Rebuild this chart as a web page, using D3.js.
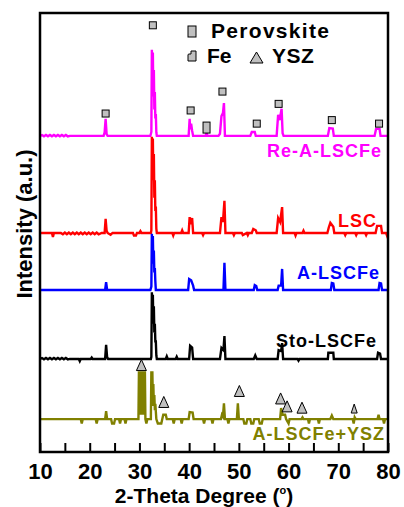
<!DOCTYPE html>
<html>
<head>
<meta charset="utf-8">
<script src="https://cdn.jsdelivr.net/npm/d3@7/dist/d3.min.js"></script>
<style>
  body { margin: 0; background: #fff; }
  text { font-family: "Liberation Sans", Arial, sans-serif; font-weight: bold; }
</style>
</head>
<body>
<script>
// XRD patterns, stacked with offsets

// x ticks
var tickValues = [10, 15, 20, 25, 30, 35, 40, 45, 50, 55, 60, 65, 70, 75, 80];

// series names, colours and baseline offsets (intensity units)
var names = ["Re-A-LSCFe", "LSC", "A-LSCFe", "Sto-LSCFe", "A-LSCFe+YSZ"];
var colors = ["#ff00ff", "#ff0000", "#0000ff", "#000000", "#808000"];
var offsets = [72.0, 49.9, 36.9, 21.2, 7.5];

// [2theta, intensity above baseline]
var reALSCFe = [[10,0],[10.4,0.2],[10.8,-0.1],[11.2,0.2],[11.6,-0.1],[12,0.2],[12.4,-0.1],[12.8,0.2],[13.2,-0.1],[13.6,0.2],[14,-0.1],[14.4,0.2],[14.8,-0.1],[15.2,0.2],[15.6,-0.1],[16,0],
  [22.8,0],[23.0,0.8],[23.2,3.9],[23.4,0.4],[23.6,0],
  [32.2,0],[32.4,0.9],[32.5,19.6],[32.6,12],[32.7,19.0],[32.8,9],[32.9,15],[33.0,6],[33.1,10],[33.2,4],[33.3,5],[33.4,0.8],[33.5,0],
  [39.9,0],[40.1,3.9],[40.2,1.5],[40.4,2.8],[40.6,1.2],[40.8,0],
  [43.3,0],[43.5,0.7],[43.7,0],
  [45.9,0],[46.2,0.5],[46.5,4.5],[46.8,5.2],[47.0,7.5],[47.2,0],
  [52.3,0],[52.6,0.9],[53.2,0.9],[53.4,0],
  [57.6,0],[57.9,4.8],[58.2,3.6],[58.6,6.2],[58.8,0.6],[59.0,0],
  [67.9,0],[68.2,1.8],[68.9,1.7],[69.1,0],
  [77.3,0],[77.6,1.6],[78.3,1.6],[78.5,0],[80,0]];

var lsc = [[10,0],[12.4,0],[12.6,-0.9],[12.8,0],[14.2,0],[14.6,-0.3],[15.0,0.1],[15.4,-0.3],[15.8,0.1],[16.2,-0.3],[16.6,0.1],[17,-0.3],[17.4,0.1],[17.8,-0.3],[18.2,0.1],[18.6,-0.3],[19,0.1],[19.4,-0.3],[19.8,0.1],[20.2,-0.3],[20.6,0.1],[21,-0.3],[21.4,0.1],[21.8,-0.3],[22.4,0],
  [23.0,0],[23.2,3.2],[23.4,0.5],[23.6,0],[24.2,-0.4],[24.6,0],
  [28.7,0],[28.9,-0.6],[29.3,-0.6],[29.5,0],[30.0,0],[30.2,0.4],[30.4,0],
  [32.3,0],[32.4,0.6],[32.5,21.9],[32.6,15],[32.7,21.5],[32.8,12],[32.9,18],[33.0,8],[33.1,12],[33.2,5],[33.3,6],[33.4,1],[33.5,0],
  [36.6,0],[36.8,-0.6],[37.0,0],[38.4,0],[38.6,0.6],[38.8,0],
  [39.9,0],[40.1,3.6],[40.3,2],[40.6,3.4],[40.8,0],
  [42.6,0],[42.8,-0.5],[43.0,0],
  [46.2,0],[46.5,3.6],[46.8,2.5],[47.1,7.3],[47.3,0],[48.8,0],[49.0,-0.5],[49.2,0],
  [50.6,0],[50.8,-0.5],[51.6,0],[51.8,-0.5],[52.0,0],[52.6,0],[52.9,0.9],[53.4,0.6],[53.6,0],
  [57.6,0],[57.9,3.4],[58.3,2.5],[58.7,5.9],[58.9,0],
  [61.2,0],[61.4,-0.6],[61.6,0],[62.8,0],[63.0,0.5],[63.2,0],
  [67.8,0],[68.1,1.3],[68.4,2.3],[69.0,1.4],[69.2,0],
  [71.2,0],[71.4,-0.5],[71.6,0],[73.4,0],[73.6,-0.5],[73.8,0],[75.4,0],[75.6,-0.5],[75.8,0],
  [77.5,0],[77.8,1.6],[78.6,1.6],[78.8,0],[79.6,0],[79.8,-0.6],[80,0]];

var aLSCFe = [[10,0],
  [23.1,0],[23.3,1.8],[23.5,0],
  [32.2,0],[32.4,0.8],[32.5,12.8],[32.6,8],[32.7,12.3],[32.8,6],[32.9,9],[33.0,4],[33.1,5],[33.2,2],[33.3,0],
  [39.8,0],[40.0,2.5],[40.4,2.2],[40.8,1.0],[41.0,0],
  [46.9,0],[47.1,6.2],[47.3,0],
  [53.0,0],[53.2,1.1],[53.5,0.9],[53.7,0],
  [57.8,0],[58.0,1.0],[58.5,1.0],[58.7,4.8],[58.9,0],
  [68.5,0],[68.7,1.6],[69.0,1.5],[69.2,0],
  [78.1,0],[78.3,1.6],[78.6,1.5],[78.8,0],[80,0]];

var stoLSCFe = [[10,0],[10.4,0.2],[10.8,-0.1],[11.2,0.2],[11.6,-0.1],[12,0.2],[12.4,-0.1],[12.8,0.2],[13.2,-0.1],[13.6,0.2],[14,-0.1],[14.4,0.2],[14.8,-0.1],[15.2,0.2],[15.6,-0.1],[16,0],
  [17.8,0],[18.0,-0.5],[18.2,0],[20.2,0],[20.4,0.3],[20.6,0],
  [23.1,0],[23.3,3.2],[23.5,0.4],[23.7,0],
  [32.3,0],[32.4,0.5],[32.5,15.2],[32.6,10],[32.7,14.6],[32.8,8],[32.9,12],[33.0,6],[33.1,8],[33.2,4],[33.3,4],[33.4,0.8],[33.5,0],
  [35.3,0],[35.5,0.6],[35.7,0],[37.3,0],[37.5,0.5],[37.7,0],
  [40.0,0],[40.2,3.0],[40.6,2.6],[40.8,0],
  [46.2,0],[46.5,2.5],[46.9,2.0],[47.1,5.2],[47.3,0],
  [53.0,0],[53.3,0.8],[53.6,0],
  [57.8,0],[58.0,2.0],[58.5,1.8],[58.7,3.6],[58.9,0],
  [61.8,0],[62.0,-0.4],[62.2,0],
  [67.9,0],[68.0,1.4],[69.0,1.4],[69.1,0],
  [77.8,0],[78.0,1.4],[78.4,1.2],[78.6,0],[80,0]];

var aLSCFeYSZ = [[10,0],[18.2,0],[18.4,-1.0],[18.6,0],[21.2,0],[21.4,-1.0],[21.6,0],
  [23.1,0],[23.3,1.8],[23.5,0],[24.3,0],[24.5,-1.0],[24.9,-1.0],[25.1,0],[25.9,0],[26.1,-1.0],[26.3,0],[27.0,0],[27.2,-1.0],[27.4,0],
  [29.8,0],[29.9,10.9],[30.0,1],[30.1,10.9],[30.2,1],[30.3,10.9],[30.4,1],[30.5,10.9],[30.6,1],[30.7,10.9],[30.8,1],[30.9,10.9],[31.0,1],[31.1,10.9],[31.2,0],
  [31.4,-1.0],[31.6,0],
  [32.3,0],[32.4,10.9],[32.5,3],[32.6,10.9],[32.7,4],[32.8,8],[32.9,3],[33.0,5.5],[33.1,2],[33.2,3.5],[33.4,0],[33.7,-1.0],[34.4,-1.0],[34.6,0],
  [34.8,1.0],[35.3,1.0],[35.5,0],[36.7,0],[36.9,-1.0],[37.1,0],[38.3,0],[38.5,-1.0],[38.7,0],
  [39.9,0],[40.1,1.6],[40.7,1.5],[40.9,0],[42.8,0],[43.0,-1.0],[43.2,0],[44.5,0],[44.7,-1.0],[44.9,0],
  [46.4,0],[46.6,1.0],[46.8,0.6],[47.0,3.6],[47.2,0],[47.7,0],[47.9,-1.0],[48.1,0],
  [49.6,0],[49.8,3.6],[50.0,0],[50.9,0],[51.1,-1.0],[51.5,-1.0],[51.7,0],[52.3,0],[52.5,-1.0],[52.9,-1.0],[53.1,0],[54.0,0],[54.2,-1.0],[54.6,-1.0],[54.8,0],
  [58.3,0],[58.5,2.5],[58.8,1.0],[59.3,1.0],[59.5,0],[60.0,-1.0],[60.2,0],
  [62.6,0],[62.8,0.4],[63.0,0],[63.9,0],[64.1,-1.0],[64.3,0],[65.9,0],[66.1,-1.0],[66.3,0],
  [68.4,0],[68.7,0.8],[69.0,0],[72.9,0],[73.1,-1.0],[73.3,0.4],[73.5,0],
  [77.9,0],[78.1,1.0],[78.3,0],[79.0,0],[79.2,-1.0],[79.4,0],[80,0]];

var seriesData = [reALSCFe, lsc, aLSCFe, stoLSCFe, aLSCFeYSZ];

// phase markers [2theta, height on intensity axis]
var perovskiteMarks = [[23.2, 77.1], [32.7, 97.2], [40.3, 77.8], [46.7, 82.1], [53.6, 74.8], [58.0, 79.3], [68.7, 75.6], [78.2, 74.8]];
var feMarks = [[43.5, 73.9]];
var yszMarks = [[30.4, 19.8], [34.9, 11.4], [50.1, 13.9], [58.4, 12.2], [59.7, 10.4], [62.7, 10.1], [73.2, 9.9]];
var yszSmall = [false, false, false, false, false, false, true];

// label positions
var labelX = [382, 377, 380, 377, 385];
var labelY = [157, 227, 279, 347, 440];

// set frame
var margin = {top: 13, right: 16, bottom: 55, left: 40};
var W = 404, H = 507;
var width = W - margin.left - margin.right;
var height = H - margin.top - margin.bottom;

var xScale = d3.scaleLinear().domain([10, 80]).range([0, width]);
var yScale = d3.scaleLinear().domain([0, 100]).range([height, 0]);

var svg = d3.select("body").append("svg")
    .attr("width", W)
    .attr("height", H)
    .attr("style", "background: white")
    .append("g")
    .attr("transform", "translate(" + margin.left + "," + margin.top + ")");

// curves
var line = d3.line()
    .x(function(d) { return xScale(d[0]); })
    .y(function(d) { return yScale(d[1] + d.off); });

seriesData.forEach(function(pts, i) {
    var shifted = pts.map(function(p) { var q = [p[0], p[1]]; q.off = offsets[i]; return q; });
    svg.append("path")
        .datum(shifted)
        .attr("d", line)
        .attr("fill", "none")
        .attr("stroke", colors[i])
        .attr("stroke-width", 2.4)
        .attr("stroke-linejoin", "miter");
});

// curve labels
names.forEach(function(n, i) {
    svg.append("text")
        .attr("x", labelX[i] - margin.left)
        .attr("y", labelY[i] - margin.top)
        .attr("text-anchor", "end")
        .attr("fill", colors[i])
        .style("font-size", "18px")
        .style("letter-spacing", "1px")
        .text(n);
});

// perovskite squares
svg.selectAll(".pv")
    .data(perovskiteMarks)
    .enter().append("rect")
    .attr("class", "pv")
    .attr("x", function(d) { return xScale(d[0]) - 3.5; })
    .attr("y", function(d) { return yScale(d[1]) - 3.5; })
    .attr("width", 7)
    .attr("height", 7)
    .attr("fill", "#c0c0c0")
    .attr("stroke", "#000")
    .attr("stroke-width", 1);

// Fe marks
svg.selectAll(".fe")
    .data(feMarks)
    .enter().append("rect")
    .attr("class", "fe")
    .attr("x", function(d) { return xScale(d[0]) - 3.5; })
    .attr("y", function(d) { return yScale(d[1]) - 5.5; })
    .attr("width", 7)
    .attr("height", 11)
    .attr("fill", "#c0c0c0")
    .attr("stroke", "#000")
    .attr("stroke-width", 1);

// YSZ triangles
svg.selectAll(".ysz")
    .data(yszMarks)
    .enter().append("path")
    .attr("class", "ysz")
    .attr("d", function(d, i) {
        var cx = xScale(d[0]), cy = yScale(d[1]);
        var w = yszSmall[i] ? 3 : 5, h = yszSmall[i] ? 4.5 : 5.5;
        return "M" + cx + "," + (cy - h) + "L" + (cx + w) + "," + (cy + h) + "L" + (cx - w) + "," + (cy + h) + "Z";
    })
    .attr("fill", "#c0c0c0")
    .attr("stroke", "#000")
    .attr("stroke-width", 1);

// frame
svg.append("rect")
    .attr("width", width)
    .attr("height", height)
    .attr("fill", "none")
    .attr("stroke", "#000")
    .attr("stroke-width", 2.5);

// x axis, ticks inward
var xAxis = d3.axisBottom(xScale)
    .tickValues(tickValues)
    .tickSize(-9)
    .tickPadding(11)
    .tickFormat(function(d) { return d % 10 === 0 ? d : ""; });

var gx = svg.append("g")
    .attr("transform", "translate(0," + height + ")")
    .call(xAxis);
gx.select(".domain").remove();
gx.selectAll("line").attr("stroke", "#000").attr("stroke-width", 2);
gx.selectAll("text")
    .attr("fill", "#000")
    .style("font-size", "22px")
    .style("font-family", "'Liberation Sans', Arial, sans-serif")
    .style("font-weight", "bold");

// x title
var xt = svg.append("text")
    .attr("x", 204 - margin.left)
    .attr("y", 503 - margin.top)
    .attr("text-anchor", "middle")
    .style("font-size", "21px")
    .text("2-Theta Degree (");
xt.append("tspan").attr("dy", -9).style("font-size", "11px").text("o");
xt.append("tspan").attr("dy", 9).text(")");

// y title
svg.append("text")
    .attr("transform", "translate(" + (32 - margin.left) + "," + (224 - margin.top) + ") rotate(-90)")
    .attr("text-anchor", "middle")
    .style("font-size", "22px")
    .text("Intensity (a.u.)");

// legend
var lg = svg.append("g").attr("transform", "translate(" + (-margin.left) + "," + (-margin.top) + ")");
lg.append("rect")
    .attr("x", 188).attr("y", 26).attr("width", 8).attr("height", 11)
    .attr("fill", "#c0c0c0").attr("stroke", "#000").attr("stroke-width", 1);
lg.append("text")
    .attr("x", 211).attr("y", 38)
    .style("font-size", "21px")
    .style("letter-spacing", "1.3px")
    .text("Perovskite");
lg.append("path")
    .attr("d", "M191,51 L196,51 L196,61 L188,61 L188,55 Q188,54 189,54 L191,54 Z")
    .attr("fill", "#c0c0c0").attr("stroke", "#000").attr("stroke-width", 1);
lg.append("text")
    .attr("x", 207).attr("y", 63)
    .style("font-size", "21px")
    .text("Fe");
lg.append("path")
    .attr("d", "M256.5,52 L263,63 L250,63 Z")
    .attr("fill", "#c0c0c0").attr("stroke", "#000").attr("stroke-width", 1);
lg.append("text")
    .attr("x", 272).attr("y", 63)
    .style("font-size", "21px")
    .style("letter-spacing", "0.5px")
    .text("YSZ");
</script>
</body>
</html>
